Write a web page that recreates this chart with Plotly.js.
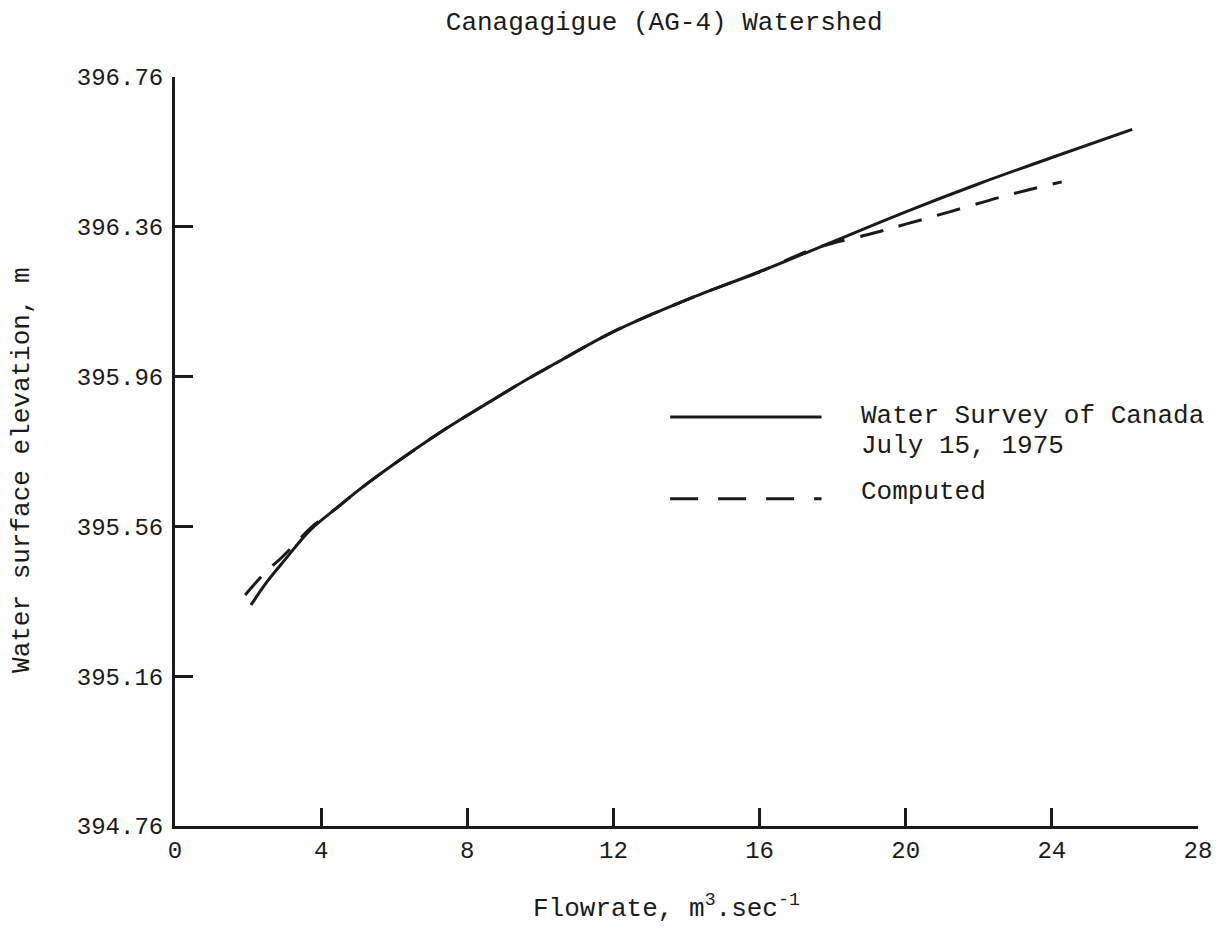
<!DOCTYPE html>
<html>
<head>
<meta charset="utf-8">
<script src="https://cdn.plot.ly/plotly-3.0.1.min.js"></script>
<style>html,body{margin:0;padding:0;background:#fff;}#chart{width:1221px;height:930px;}</style>
</head>
<body>
<div id="chart"></div>
<script>
// Data
const surveyX = [2.08, 2.5, 3.0, 3.7, 4.5, 5.0, 5.9, 7.4, 8.4, 9.5, 10.5, 12, 14, 16, 18, 20, 22, 24, 26.2];
const surveyY = [395.35, 395.41, 395.47, 395.55, 395.615, 395.655, 395.72, 395.82, 395.88, 395.945, 396.0, 396.08, 396.165, 396.24, 396.32, 396.40, 396.475, 396.545, 396.62];

const computedX = [1.92, 2.5, 2.9, 3.4, 3.7, 4.5, 5.0, 5.9, 7.4, 8.4, 9.5, 10.5, 12, 14, 16, 17.6, 19.0, 20.0, 21.2, 22.7, 24.27];
const computedY = [395.377, 395.44, 395.475, 395.525, 395.555, 395.615, 395.655, 395.72, 395.82, 395.88, 395.945, 396.0, 396.08, 396.165, 396.24, 396.305, 396.34, 396.367, 396.40, 396.442, 396.48];

const xTicks = [0, 4, 8, 12, 16, 20, 24, 28];
const yTicks = [394.76, 395.16, 395.56, 395.96, 396.36, 396.76];
const yTickText = ["394.76", "395.16", "395.56", "395.96", "396.36", "396.76"];

const seriesNames = ["Water Survey of Canada", "July 15, 1975", "Computed"];

const FONT = "Liberation Mono, Courier New, monospace";
const INK = "#1a1a1a";

const traces = [
  {x: computedX, y: computedY, mode: "lines", name: seriesNames[2],
   line: {color: INK, width: 3, dash: "24px,16px", shape: "spline"}, showlegend: false},
  {x: surveyX, y: surveyY, mode: "lines", name: seriesNames[0],
   line: {color: INK, width: 3, shape: "spline"}, showlegend: false}
];

const layout = {
  width: 1221, height: 930,
  margin: {l: 175, r: 23, t: 77, b: 104},
  paper_bgcolor: "#fff", plot_bgcolor: "#fff",
  font: {family: FONT, color: INK, size: 22},
  title: {text: "Canagagigue (AG-4) Watershed", font: {family: FONT, size: 26, color: INK},
          x: 0.544, xanchor: "center", xref: "container", y: 0.978, yanchor: "middle", yref: "container"},
  xaxis: {range: [0, 28], tickvals: xTicks, ticktext: xTicks.map(String),
          showgrid: false, zeroline: false, showline: true, linecolor: INK, linewidth: 3,
          ticks: "inside", ticklen: 18, tickwidth: 3, tickcolor: INK,
          tickfont: {family: FONT, size: 24, color: INK}},
  yaxis: {range: [394.76, 396.76], tickvals: yTicks, ticktext: yTickText,
          showgrid: false, zeroline: false, showline: true, linecolor: INK, linewidth: 3,
          ticks: "inside", ticklen: 18, tickwidth: 3, tickcolor: INK, ticklabelstandoff: 4,
          tickfont: {family: FONT, size: 24, color: INK}},
  shapes: [
    {type: "line", xref: "paper", yref: "paper", x0: 0.484, x1: 0.632, y0: 0.546, y1: 0.546,
     line: {color: INK, width: 3}},
    {type: "line", xref: "paper", yref: "paper", x0: 0.484, x1: 0.632, y0: 0.437, y1: 0.437,
     line: {color: INK, width: 3, dash: "28px,20px"}}
  ],
  annotations: [
    {xref: "paper", yref: "paper", x: 0.669, y: 0.548, xanchor: "left", yanchor: "middle",
     text: seriesNames[0], showarrow: false, font: {family: FONT, size: 26, color: INK}},
    {xref: "paper", yref: "paper", x: 0.669, y: 0.508, xanchor: "left", yanchor: "middle",
     text: seriesNames[1], showarrow: false, font: {family: FONT, size: 26, color: INK}},
    {xref: "paper", yref: "paper", x: 0.669, y: 0.446, xanchor: "left", yanchor: "middle",
     text: seriesNames[2], showarrow: false, font: {family: FONT, size: 26, color: INK}},
    {xref: "paper", yref: "paper", x: 0.48, y: -0.108, xanchor: "center", yanchor: "middle",
     text: "Flowrate, m<sup>3</sup>.sec<sup>-1</sup>", showarrow: false, font: {family: FONT, size: 26, color: INK}},
    {xref: "paper", yref: "paper", x: -0.1496, y: 0.4753, xanchor: "center", yanchor: "middle",
     textangle: -90, text: "Water surface elevation, m", showarrow: false, font: {family: FONT, size: 26, color: INK}}
  ]
};

Plotly.newPlot("chart", traces, layout, {staticPlot: true, displayModeBar: false});
</script>
</body>
</html>
